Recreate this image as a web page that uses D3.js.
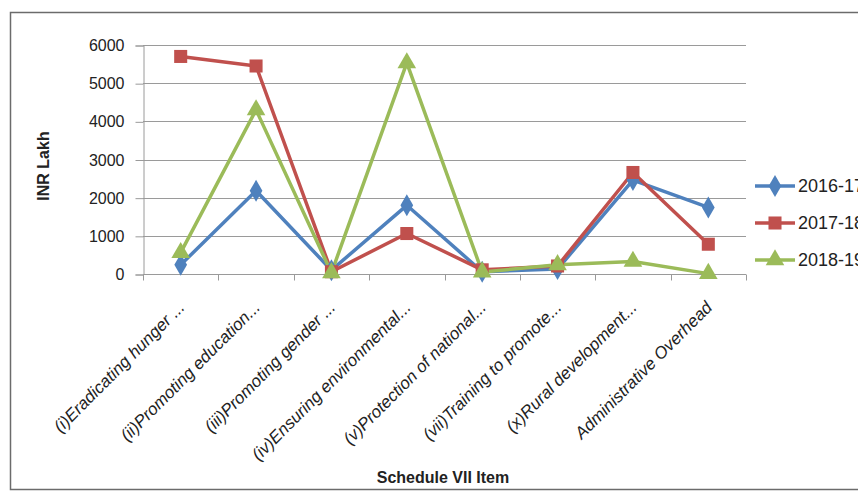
<!DOCTYPE html>
<html>
<head>
<meta charset="utf-8">
<script src="https://cdn.jsdelivr.net/npm/d3@7"></script>
<style>
  body { margin: 0; background: #fff; }
  svg { display: block; font-family: "Liberation Sans", Arial, sans-serif; }
</style>
</head>
<body>
<div id="vis"></div>
<script>
const WIDTH = 858;
const HEIGHT = 491;
const MARGIN = {left: 143, right: 112, top: 45, bottom: 217};

const categories = [
  "(i)Eradicating hunger ...",
  "(ii)Promoting education...",
  "(iii)Promoting gender ...",
  "(iv)Ensuring environmental...",
  "(v)Protection of national...",
  "(vii)Training to promote...",
  "(x)Rural development...",
  "Administrative Overhead"
];
const seriesNames = ["2016-17", "2017-18", "2018-19"];
const values2016 = [240, 2180, 100, 1800, 60, 130, 2460, 1745];
const values2017 = [5700, 5450, 60, 1060, 110, 210, 2660, 780];
const values2018 = [560, 4300, 30, 5530, 50, 240, 330, 10];
const yTicks = [0, 1000, 2000, 3000, 4000, 5000, 6000];
const colors = ["#4F81BD", "#C0504D", "#9BBB59"];
const symbols = [d3.symbolDiamond, d3.symbolSquare, d3.symbolTriangle];

const series = [values2016, values2017, values2018];

const FRAME = d3.select("#vis")
  .append("svg")
    .attr("width", WIDTH)
    .attr("height", HEIGHT);

// outer chart border (runs off the right edge like the original)
FRAME.append("rect")
  .attr("x", 10.5).attr("y", 12.5)
  .attr("width", 870).attr("height", 477)
  .attr("fill", "none")
  .attr("stroke", "#6b6b6b")
  .attr("stroke-width", 1.5);

const X_SCALE = d3.scaleBand()
  .domain(categories)
  .range([MARGIN.left, WIDTH - MARGIN.right]);

const Y_SCALE = d3.scaleLinear()
  .domain([0, 6000])
  .range([HEIGHT - MARGIN.bottom, MARGIN.top]);

// gridlines
FRAME.append("g")
  .selectAll("line")
  .data(yTicks)
  .enter()
  .append("line")
    .attr("x1", MARGIN.left)
    .attr("x2", WIDTH - MARGIN.right)
    .attr("y1", (d) => Math.round(Y_SCALE(d)) + 0.5)
    .attr("y2", (d) => Math.round(Y_SCALE(d)) + 0.5)
    .attr("stroke", "#9a9a9a")
    .attr("stroke-width", 1);

// y axis
const yAxis = FRAME.append("g")
  .attr("transform", "translate(" + (MARGIN.left + 0.5) + ",0.5)")
  .call(d3.axisLeft(Y_SCALE).tickValues(yTicks).tickSize(8).tickPadding(11).tickFormat(d3.format("d")));
yAxis.selectAll("path, line").attr("stroke", "#9a9a9a");
yAxis.selectAll("text")
  .attr("font-size", "16px")
  .attr("font-family", "Liberation Sans, Arial, sans-serif")
  .attr("fill", "#222");

// x axis: ticks at category boundaries
const xAxisY = Math.round(Y_SCALE(0)) + 0.5;
FRAME.append("line")
  .attr("x1", MARGIN.left).attr("x2", WIDTH - MARGIN.right)
  .attr("y1", xAxisY).attr("y2", xAxisY)
  .attr("stroke", "#9a9a9a");
const bounds = categories.map((c) => X_SCALE(c)).concat([X_SCALE.range()[1]]);
FRAME.append("g")
  .selectAll("line")
  .data(bounds)
  .enter()
  .append("line")
    .attr("x1", (d) => Math.round(d) + 0.5)
    .attr("x2", (d) => Math.round(d) + 0.5)
    .attr("y1", xAxisY)
    .attr("y2", xAxisY + 6)
    .attr("stroke", "#9a9a9a");

// category labels, rotated
FRAME.append("g")
  .selectAll("text")
  .data(categories)
  .enter()
  .append("text")
    .attr("transform", (d) => "translate(" + (X_SCALE(d) + X_SCALE.bandwidth() / 2 + 5) + "," + (xAxisY + 34) + ") rotate(-45)")
    .attr("text-anchor", "end")
    .attr("font-size", "17px")
    .attr("font-style", "italic")
    .attr("fill", "#222")
    .text((d) => d);

// lines and markers
const line = d3.line()
  .x((d, i) => X_SCALE(categories[i]) + X_SCALE.bandwidth() / 2)
  .y((d) => Y_SCALE(d));

series.forEach((vals, s) => {
  FRAME.append("path")
    .datum(vals)
    .attr("d", line)
    .attr("fill", "none")
    .attr("stroke", colors[s])
    .attr("stroke-width", 3.5)
    .attr("stroke-linejoin", "round");
});

const symSizes = [140, 170, 150];
series.forEach((vals, s) => {
  FRAME.append("g")
    .selectAll("path")
    .data(vals)
    .enter()
    .append("path")
      .attr("d", d3.symbol().type(symbols[s]).size(symSizes[s]))
      .attr("transform", (d, i) => "translate(" + (X_SCALE(categories[i]) + X_SCALE.bandwidth() / 2) + "," + Y_SCALE(d) + ")")
      .attr("fill", colors[s]);
});

// legend
const legend = FRAME.append("g")
  .selectAll("g")
  .data(seriesNames)
  .enter()
  .append("g")
    .attr("transform", (d, i) => "translate(755," + (186 + i * 37) + ")");
legend.append("line")
  .attr("x1", 0).attr("x2", 40)
  .attr("stroke", (d, i) => colors[i])
  .attr("stroke-width", 3.5);
legend.append("path")
  .attr("d", (d, i) => d3.symbol().type(symbols[i]).size(symSizes[i])())
  .attr("transform", "translate(20,0)")
  .attr("fill", (d, i) => colors[i]);
legend.append("text")
  .attr("x", 43)
  .attr("dy", "0.36em")
  .attr("font-size", "18px")
  .attr("fill", "#222")
  .text((d) => d);

// axis titles
FRAME.append("text")
  .attr("x", 443).attr("y", 483)
  .attr("text-anchor", "middle")
  .attr("font-size", "16px")
  .attr("font-weight", "bold")
  .attr("fill", "#222")
  .text("Schedule VII Item");

FRAME.append("text")
  .attr("transform", "translate(49,166) rotate(-90)")
  .attr("text-anchor", "middle")
  .attr("font-size", "16px")
  .attr("font-weight", "bold")
  .attr("fill", "#222")
  .text("INR Lakh");
</script>
</body>
</html>
